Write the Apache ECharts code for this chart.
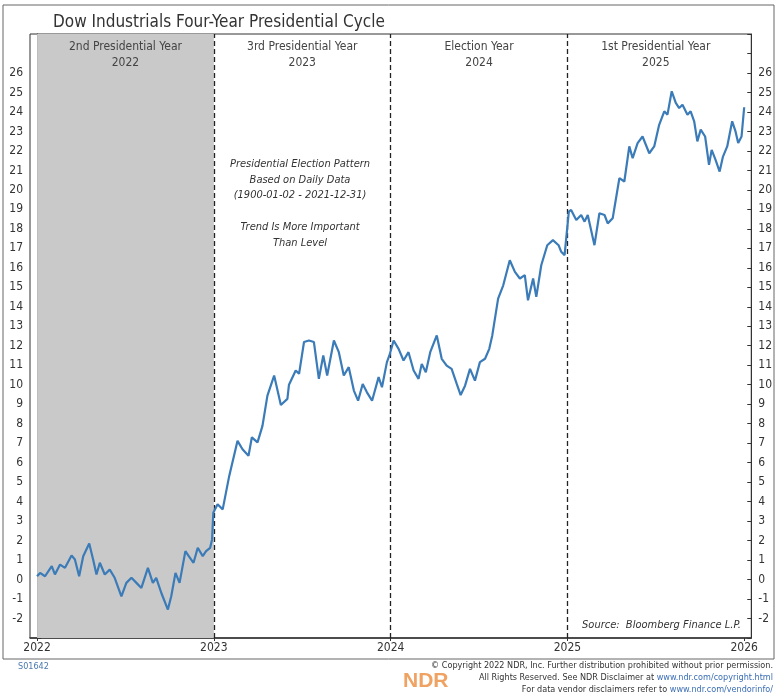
<!DOCTYPE html>
<html>
<head>
<meta charset="utf-8">
<title>Dow Industrials Four-Year Presidential Cycle</title>
<script src="https://cdn.jsdelivr.net/npm/echarts@6.0.0/dist/echarts.min.js"></script>
<style>
  html, body { margin: 0; padding: 0; background: #fff; }
  #chart { width: 775px; height: 700px; }
</style>
</head>
<body>
<div id="chart"></div>
<script>
// Position in the four-year cycle (0 = start of 2022, 4 = start of 2026)
const cycleYears = [
  0, 0.017, 0.045, 0.083, 0.101, 0.130, 0.158, 0.195, 0.214, 0.238,
  0.261, 0.295, 0.317, 0.336, 0.355, 0.383, 0.411, 0.439, 0.477, 0.505,
  0.534, 0.562, 0.590, 0.627, 0.655, 0.674, 0.703, 0.740, 0.759, 0.783,
  0.806, 0.839, 0.858, 0.885, 0.909, 0.937, 0.956, 0.979, 0.990, 0.997,
  1.021, 1.050, 1.087, 1.134, 1.162, 1.196, 1.215, 1.247, 1.275, 1.303,
  1.341, 1.379, 1.416, 1.425, 1.463, 1.482, 1.510, 1.538, 1.566, 1.594,
  1.619, 1.641, 1.679, 1.707, 1.735, 1.763, 1.792, 1.816, 1.842, 1.866,
  1.895, 1.932, 1.951, 1.979, 1.993, 2.017, 2.045, 2.073, 2.101, 2.130,
  2.158, 2.176, 2.199, 2.224, 2.261, 2.289, 2.317, 2.345, 2.374, 2.396,
  2.421, 2.449, 2.477, 2.505, 2.534, 2.558, 2.575, 2.608, 2.637, 2.674,
  2.703, 2.731, 2.759, 2.777, 2.806, 2.824, 2.852, 2.886, 2.918, 2.950,
  2.965, 2.984, 3.008, 3.021, 3.050, 3.078, 3.097, 3.115, 3.153, 3.181,
  3.210, 3.228, 3.256, 3.275, 3.294, 3.322, 3.350, 3.369, 3.397, 3.425,
  3.463, 3.491, 3.519, 3.548, 3.566, 3.590, 3.613, 3.632, 3.651, 3.679,
  3.697, 3.717, 3.735, 3.754, 3.779, 3.801, 3.816, 3.838, 3.861, 3.880,
  3.904, 3.932, 3.951, 3.966, 3.985, 4.0,
]

// Cumulative percent change of the composite pattern
const patternChange = [
  0.17, 0.34, 0.17, 0.69, 0.26, 0.77, 0.60, 1.24, 1.03, 0.17,
  1.20, 1.85, 1.03, 0.26, 0.86, 0.26, 0.51, 0.09, -0.86, -0.17,
  0.09, -0.17, -0.43, 0.60, -0.17, 0.09, -0.69, -1.54, -0.86, 0.34,
  -0.17, 1.46, 1.20, 0.86, 1.63, 1.20, 1.46, 1.63, 2.06, 3.43,
  3.86, 3.60, 5.32, 7.12, 6.69, 6.35, 7.30, 7.04, 7.89, 9.44,
  10.47, 8.96, 9.27, 10.0, 10.73, 10.56, 12.19, 12.27, 12.19, 10.30,
  11.50, 10.47, 12.27, 11.67, 10.47, 10.90, 9.70, 9.18, 10.04, 9.61,
  9.18, 10.39, 9.87, 11.16, 11.50, 12.27, 11.84, 11.24, 11.67, 10.73,
  10.30, 11.07, 10.64, 11.67, 12.53, 11.33, 10.98, 10.81, 10.04, 9.47,
  9.95, 10.81, 10.21, 11.16, 11.33, 11.84, 12.53, 14.42, 15.10, 16.39,
  15.79, 15.45, 15.62, 14.33, 15.45, 14.51, 16.13, 17.16, 17.42, 17.16,
  16.82, 16.65, 18.88, 18.97, 18.45, 18.71, 18.37, 18.71, 17.16, 18.80,
  18.71, 18.28, 18.54, 19.57, 20.60, 20.43, 22.23, 21.63, 22.40, 22.74,
  21.88, 22.23, 23.34, 24.03, 23.86, 25.06, 24.46, 24.20, 24.37, 23.86,
  24.03, 23.52, 22.49, 23.09, 22.74, 21.28, 22.05, 21.54, 20.94, 21.71,
  22.23, 23.52, 23.00, 22.40, 22.74, 24.24,
]

const startYear = 2022
const yearTicks = [0, 1, 2, 3, 4]
const cycleNames = ['2nd Presidential Year', '3rd Presidential Year', 'Election Year', '1st Presidential Year']
const cycleLabels = ['2022', '2023', '2024', '2025']
const dividerYears = [1, 2, 3]

const narrowFont = "'Liberation Sans Narrow', 'DejaVu Sans Condensed', 'Liberation Sans', sans-serif"

const chart = echarts.init(document.getElementById('chart'))

// one shaded / labelled band per year of the cycle
const yearBands = cycleNames.map((name, i) => [
  {
    xAxis: i,
    name: name + '\n' + cycleLabels[i],
    itemStyle: { color: i === 0 ? '#c9c9c9' : 'rgba(0,0,0,0)' },
  },
  { xAxis: i + 1 },
])

// shared y-axis setup (left and right copies)
const valueAxis = (position) => ({
  type: 'value',
  position: position,
  min: -3,
  max: 28,
  interval: 1,
  splitLine: { show: false },
  axisLine: { show: true, lineStyle: { color: '#333', width: 1 } },
  axisTick: { show: true, inside: true, length: 4, lineStyle: { color: '#333' } },
  axisLabel: {
    margin: 7,
    color: '#333',
    fontFamily: narrowFont,
    fontSize: 12,
    formatter: (v) => (v < -2 || v > 26 ? '' : String(v)),
  },
})

const option = {
  animation: false,
  backgroundColor: '#fff',
  title: {
    text: 'Dow Industrials Four-Year Presidential Cycle',
    left: 48,
    top: 9,
    textStyle: {
      color: '#333',
      fontFamily: narrowFont,
      fontWeight: 'normal',
      fontSize: 17,
    },
  },
  grid: {
    left: 30,
    right: 21,
    top: 34,
    bottom: 62,
    show: true,
    borderColor: '#333',
    borderWidth: 1,
  },
  xAxis: {
    type: 'value',
    min: -0.04,
    max: 4.04,
    splitLine: { show: false },
    axisLine: { onZero: false, lineStyle: { color: '#333', width: 1.5 } },
    axisTick: { customValues: yearTicks, length: 3, lineStyle: { color: '#333' } },
    axisLabel: {
      customValues: yearTicks,
      margin: 4,
      color: '#333',
      fontFamily: narrowFont,
      fontSize: 12,
      formatter: (v) => String(startYear + Math.round(v)),
    },
  },
  yAxis: [valueAxis('left'), valueAxis('right')],
  series: [
    {
      name: 'Pattern',
      type: 'line',
      data: cycleYears.map((x, i) => [x, patternChange[i]]),
      symbol: 'none',
      z: 5,
      lineStyle: { color: '#3a7bb8', width: 2.2 },
      markArea: {
        silent: true,
        label: {
          show: true,
          position: 'insideTop',
          distance: 5,
          color: '#444',
          fontFamily: narrowFont,
          fontSize: 12,
          lineHeight: 16,
          align: 'center',
        },
        data: yearBands,
      },
      markLine: {
        silent: true,
        symbol: 'none',
        label: { show: false },
        lineStyle: { color: '#222', type: [5, 3], width: 1.3 },
        data: dividerYears.map((x) => ({ xAxis: x })),
      },
    },
  ],
  graphic: [
    // outer frame of the exhibit
    {
      type: 'rect',
      shape: { x: 3, y: 5, width: 771, height: 654 },
      style: { fill: 'none', stroke: '#666', lineWidth: 1 },
      silent: true,
    },
    {
      type: 'text',
      x: 300,
      y: 156,
      style: {
        text: 'Presidential Election Pattern\nBased on Daily Data\n(1900-01-02 - 2021-12-31)\n\nTrend Is More Important\nThan Level',
        textAlign: 'center',
        fill: '#333',
        font: 'italic 11px ' + narrowFont,
        lineHeight: 15.8,
      },
    },
    {
      type: 'text',
      x: 741,
      y: 620,
      style: {
        text: 'Source:  Bloomberg Finance L.P.',
        textAlign: 'right',
        fill: '#333',
        font: 'italic 11px ' + narrowFont,
      },
    },
    {
      type: 'text',
      x: 18,
      y: 662,
      style: { text: 'S01642', fill: '#4a78b0', font: '9px ' + narrowFont },
    },
    {
      type: 'text',
      x: 403,
      y: 671,
      style: { text: 'NDR', fill: '#f0a262', font: 'bold 21px ' + "'Liberation Sans', sans-serif" },
    },
    {
      type: 'text',
      x: 773,
      y: 660,
      style: {
        text: '© Copyright 2022 NDR, Inc. Further distribution prohibited without prior permission.\n' +
          'All Rights Reserved. See NDR Disclaimer at {u|www.ndr.com/copyright.html}\n' +
          'For data vendor disclaimers refer to {u|www.ndr.com/vendorinfo/}',
        textAlign: 'right',
        fill: '#333',
        font: '9px ' + narrowFont,
        lineHeight: 12,
        rich: { u: { fill: '#3a6db5', font: '9px ' + narrowFont } },
      },
    },
  ],
}

chart.setOption(option)
</script>
</body>
</html>
